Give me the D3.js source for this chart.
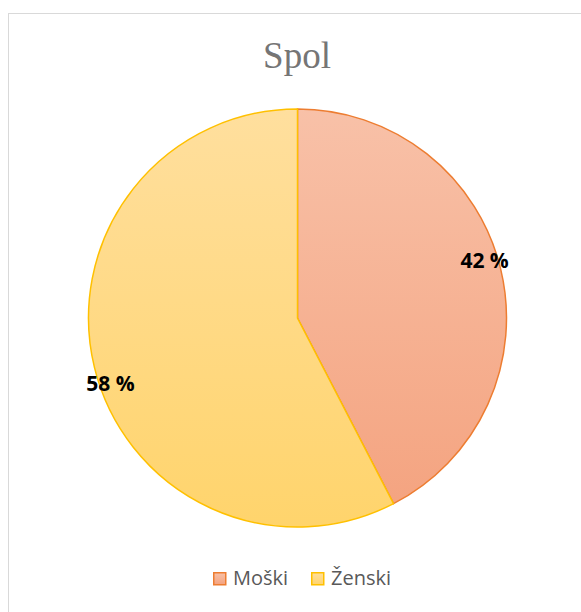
<!DOCTYPE html>
<html>
<head>
<meta charset="utf-8">
<script src="https://cdn.jsdelivr.net/npm/d3@7"></script>
<style>
  body { margin: 0; background: #fff; }
</style>
</head>
<body>
<div id="chart"></div>
<script>
// chart data
var categories = ["Moški", "Ženski"];
var values = [42.4, 57.6];
var labels = ["42 %", "58 %"];
var title = "Spol";

var svgWidth = 581, svgHeight = 612;
var cx = 297.5, cy = 318, radius = 209;

var fillTop = ["#F8C1A8", "#FFDF9E"];
var fillBottom = ["#F4A27E", "#FFD46C"];
var strokes = ["#ED7D31", "#FFC000"];

var svg = d3.select("#chart")
    .append("svg")
    .attr("width", svgWidth)
    .attr("height", svgHeight);

// chart border
svg.append("rect")
    .attr("x", 8.5)
    .attr("y", 13.5)
    .attr("width", 600)
    .attr("height", 620)
    .attr("fill", "#fff")
    .attr("stroke", "#d9d9d9")
    .attr("stroke-width", 1);

// gradients (user space of the pie group)
var defs = svg.append("defs");
categories.forEach(function (c, i) {
    var g = defs.append("linearGradient")
        .attr("id", "grad" + i)
        .attr("gradientUnits", "userSpaceOnUse")
        .attr("x1", 0).attr("y1", -radius)
        .attr("x2", 0).attr("y2", radius);
    g.append("stop").attr("offset", "0%").attr("stop-color", fillTop[i]);
    g.append("stop").attr("offset", "100%").attr("stop-color", fillBottom[i]);

    var lg = defs.append("linearGradient")
        .attr("id", "leg" + i)
        .attr("x1", 0).attr("y1", 0).attr("x2", 0).attr("y2", 1);
    lg.append("stop").attr("offset", "0%").attr("stop-color", fillTop[i]);
    lg.append("stop").attr("offset", "100%").attr("stop-color", fillBottom[i]);
});

// title
svg.append("text")
    .attr("x", 297)
    .attr("y", 68)
    .attr("text-anchor", "middle")
    .attr("font-family", "Liberation Serif, serif")
    .attr("font-size", 37)
    .attr("fill", "#757575")
    .text(title);

var pie = d3.pie().sort(null).value(d => d);
var arcs = pie(values);
var arc = d3.arc().innerRadius(0).outerRadius(radius);

var pieGroup = svg.append("g")
    .attr("transform", `translate(${cx}, ${cy})`);

pieGroup.selectAll("path")
    .data(arcs)
    .enter()
    .append("path")
    .attr("d", arc)
    .attr("fill", (d, i) => `url(#grad${i})`)
    .attr("stroke", (d, i) => strokes[i])
    .attr("stroke-width", 1.5);

// data labels
var labelRadius = 197;
pieGroup.selectAll("text.lbl")
    .data(arcs)
    .enter()
    .append("text")
    .attr("class", "lbl")
    .attr("x", d => labelRadius * Math.sin((d.startAngle + d.endAngle) / 2 - 0.08))
    .attr("y", d => -labelRadius * Math.cos((d.startAngle + d.endAngle) / 2 - 0.08))
    .attr("dy", "0.55em")
    .attr("text-anchor", "middle")
    .attr("font-family", "Open Sans, sans-serif")
    .attr("font-weight", "bold")
    .attr("font-size", 21)
    .attr("fill", "#000")
    .text((d, i) => labels[i]);

// legend
var legendX = [213, 311];
var legend = svg.append("g");
categories.forEach(function (c, i) {
    legend.append("rect")
        .attr("x", legendX[i] + 0.75)
        .attr("y", 572.75)
        .attr("width", 12)
        .attr("height", 12)
        .attr("fill", `url(#leg${i})`)
        .attr("stroke", strokes[i])
        .attr("stroke-width", 1.5);
    legend.append("text")
        .attr("x", legendX[i] + 20)
        .attr("y", 585)
        .attr("font-family", "Open Sans, sans-serif")
        .attr("font-size", 20)
        .attr("fill", "#595959")
        .text(c);
});
</script>
</body>
</html>
